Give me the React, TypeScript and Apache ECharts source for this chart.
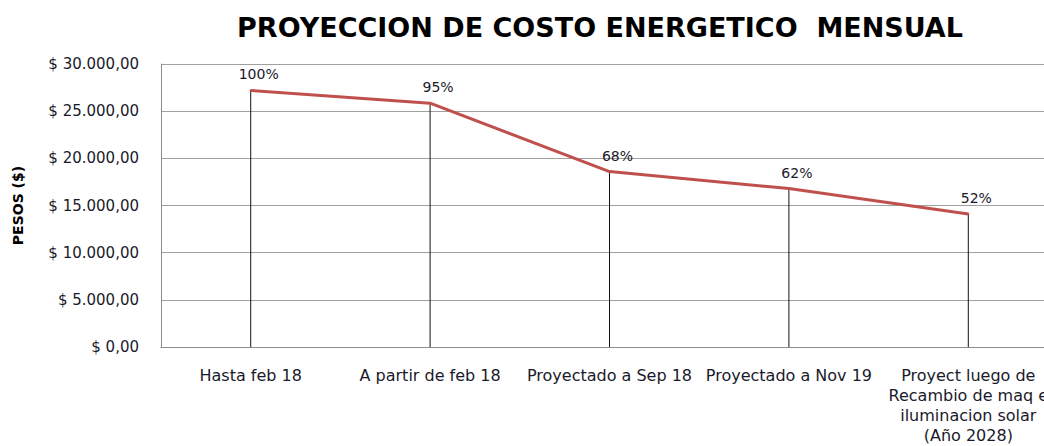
import React, { useEffect, useRef } from "react";
import * as echarts from "echarts";

const titleText = "PROYECCION DE COSTO ENERGETICO  MENSUAL";
const yAxisName = "PESOS ($)";
const categories = [
  "Hasta feb 18",
  "A partir de feb 18",
  "Proyectado a Sep 18",
  "Proyectado a Nov 19",
  "Proyect luego de\nRecambio de maq e\niluminacion solar\n(Año 2028)",
];
const costValues = [27200, 25850, 18600, 16800, 14100];
const percentLabels = ["100%", "95%", "68%", "62%", "52%"];
const yMin = 0;
const yMax = 30000;
const yStep = 5000;

function formatPesos(v: number): string {
  const fixed = v.toFixed(2);
  const [intPart, dec] = fixed.split(".");
  const withDots = intPart.replace(/\B(?=(\d{3})+(?!\d))/g, ".");
  return "$ " + withDots + "," + dec;
}

export default function App() {
  const ref = useRef<HTMLDivElement>(null);
  useEffect(() => {
    if (!ref.current) return;
    const chart = echarts.init(ref.current, undefined, { renderer: "svg" });
    chart.setOption({
      animation: false,
      backgroundColor: "#ffffff",
      textStyle: { fontFamily: "DejaVu Sans" },
      title: {
        text: titleText,
        left: 595,
        top: 9,
        textAlign: "center",
        textStyle: {
          fontFamily: "DejaVu Sans",
          fontWeight: "bold",
          fontSize: 27,
          color: "#000000",
        },
      },
      grid: {
        left: 161,
        width: 897,
        top: 64,
        height: 283,
        containLabel: false,
        outerBoundsMode: "none",
      },
      xAxis: {
        type: "category",
        data: categories,
        boundaryGap: true,
        axisLine: { show: true, lineStyle: { color: "#8c8c8c", width: 1 } },
        axisTick: { show: false },
        axisLabel: {
          interval: 0,
          color: "#1a1a2a",
          fontSize: 16,
          lineHeight: 20,
          margin: 18,
          fontFamily: "DejaVu Sans",
        },
        splitLine: { show: false },
      },
      yAxis: {
        type: "value",
        min: yMin,
        max: yMax,
        interval: yStep,
        name: yAxisName,
        nameLocation: "middle",
        nameGap: 136,
        nameTextStyle: {
          fontWeight: "bold",
          fontSize: 14,
          color: "#000000",
          fontFamily: "DejaVu Sans",
        },
        axisLine: { show: true, lineStyle: { color: "#8c8c8c", width: 1 } },
        axisTick: { show: false },
        axisLabel: {
          formatter: (v: number) => formatPesos(v),
          color: "#1a1a2a",
          fontSize: 15,
          margin: 22,
          fontFamily: "DejaVu Sans",
        },
        splitLine: { show: true, lineStyle: { color: "#a0a0a0", width: 1 } },
      },
      series: [
        {
          type: "bar",
          data: costValues,
          barWidth: 1,
          itemStyle: { color: "#111111" },
          z: 1,
        },
        {
          type: "line",
          data: costValues,
          symbol: "circle",
          symbolSize: 2,
          showSymbol: true,
          itemStyle: { color: "#C0504D" },
          lineStyle: { color: "#C0504D", width: 3 },
          z: 3,
          label: {
            show: true,
            position: "top",
            distance: 8,
            offset: [8, 0],
            fontSize: 14,
            color: "#1a1a2a",
            fontFamily: "DejaVu Sans",
            formatter: (p: any) => percentLabels[p.dataIndex],
          },
        },
      ],
    });
    return () => chart.dispose();
  }, []);
  return (
    <div
      ref={ref}
      style={{ position: "fixed", left: 0, top: 0, width: 1044, height: 446 }}
    />
  );
}
